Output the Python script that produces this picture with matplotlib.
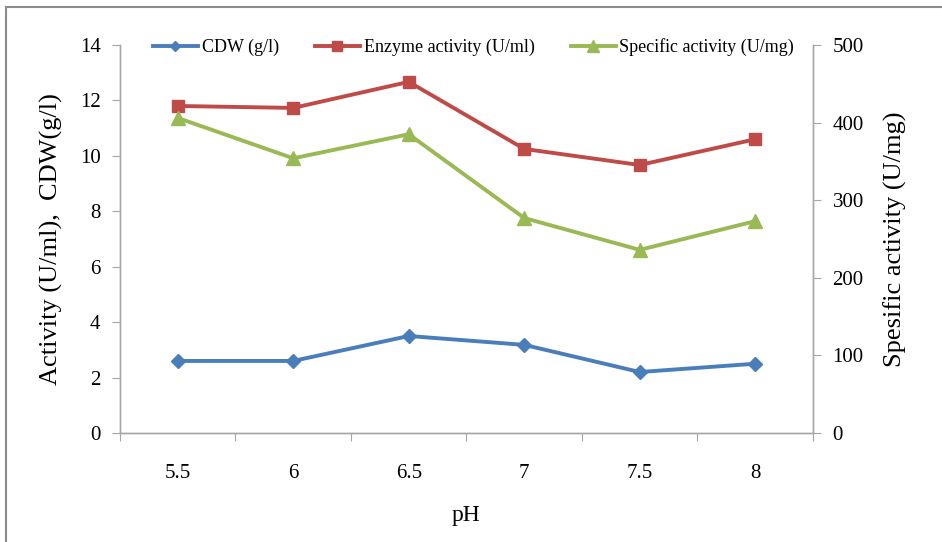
import matplotlib
matplotlib.use("Agg")
import matplotlib.pyplot as plt
from matplotlib.lines import Line2D

plt.rcParams['font.family'] = ['Liberation Serif', 'DejaVu Serif']

ph_labels = ["5.5", "6", "6.5", "7", "7.5", "8"]
cdw = [2.6, 2.6, 3.5, 3.18, 2.2, 2.5]
enzyme = [11.8, 11.73, 12.67, 10.25, 9.67, 10.6]
specific = [406, 354, 385, 277, 236, 273]

c_blue = "#4A7EBB"
c_red = "#BE4B48"
c_green = "#98B954"
gray = "#A6A6A6"

fig = plt.figure(figsize=(9.42, 5.42), dpi=100)
ax = fig.add_axes([120/942, 109/542, 693/942, 388/542])
ax2 = ax.twinx()

x = list(range(1, len(ph_labels) + 1))
l1, = ax.plot(x, cdw, color=c_blue, lw=2.8, marker="D", ms=7, label="CDW (g/l)")
l2, = ax.plot(x, enzyme, color=c_red, lw=2.8, marker="s", ms=9, label="Enzyme activity (U/ml)")
l3, = ax2.plot(x, specific, color=c_green, lw=2.8, marker="^", ms=10, label="Specific activity (U/mg)")

ax.set_xlim(0.5, len(ph_labels) + 0.5)
ax.set_ylim(0, 14)
ax2.set_ylim(0, 500)
ax.set_yticks(range(0, 15, 2))
ax2.set_yticks(range(0, 501, 100))

ax.set_xticks([i + 0.5 for i in range(0, len(ph_labels) + 1)])
ax.set_xticklabels([])
ax.set_xticks(x, minor=True)
ax.set_xticklabels(ph_labels, minor=True)
ax.tick_params(axis="x", which="minor", length=0, pad=22, labelsize=15)
ax.tick_params(axis="x", which="major", length=6, color=gray, direction="out")
ax.tick_params(axis="y", length=6, color=gray, labelsize=15, pad=8)
ax2.tick_params(axis="y", length=6, color=gray, labelsize=15, pad=8)

for a in (ax, ax2):
    a.spines["top"].set_visible(False)
    for s in ("left", "right", "bottom"):
        a.spines[s].set_color(gray)
        a.spines[s].set_linewidth(1.0)

ax.set_xlabel("pH", fontsize=17, labelpad=16)
ax.set_ylabel("Activity (U/ml),  CDW(g/l)", fontsize=19, labelpad=12)
ax2.set_ylabel("Spesific activity (U/mg)", fontsize=19, labelpad=14)

leg = ax.legend(handles=[l1, l2, l3], loc="upper center", bbox_to_anchor=(0.51, 1.06),
                ncol=3, frameon=False, fontsize=13, handlelength=2.5, markerscale=0.8,
                columnspacing=2.0, handletextpad=0.2)

fig.add_artist(Line2D([6/942, 1.0], [1 - 7/542, 1 - 7/542], color="#8C8C8C", lw=1.5,
                      transform=fig.transFigure))
fig.add_artist(Line2D([6/942, 6/942], [0, 1 - 7/542], color="#8C8C8C", lw=1.5,
                      transform=fig.transFigure))

fig.savefig("out.png", dpi=100)
